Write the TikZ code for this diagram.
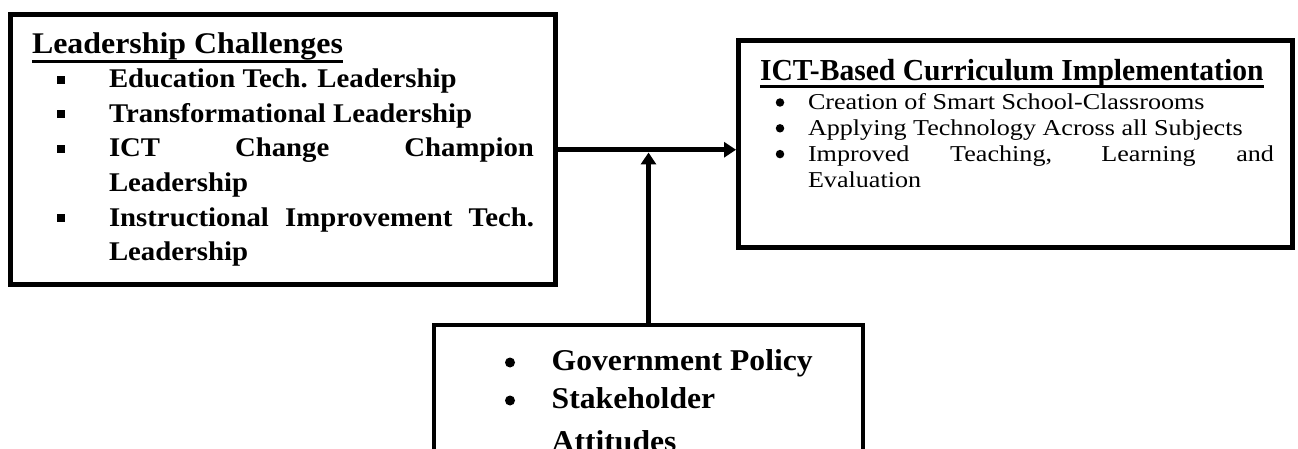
\documentclass[tikz,border=0pt]{standalone}
\usepackage{fontspec}
\setmainfont{Liberation Serif}
% per-block faces (Times metrics, slightly widened or narrowed)
\newfontfamily\lcHeadFont[FakeStretch=1.063]{Liberation Serif}
\newfontfamily\lcItemFont[FakeStretch=1.066]{Liberation Serif}
\newfontfamily\ictHeadFont[FakeStretch=0.97]{Liberation Serif}
\newfontfamily\ictItemFont[FakeStretch=1.15]{Liberation Serif}
\newfontfamily\govFont[FakeStretch=1.048]{Liberation Serif}
\usetikzlibrary{arrows.meta}

\begin{document}
\begin{tikzpicture}[x=1pt,y=-1pt,
  frame/.style={draw, line width=5pt, rectangle, inner sep=0pt},
  txt/.style={anchor=base west, inner sep=0pt, outer sep=0pt},
  lchead/.style={txt, font=\lcHeadFont\fontsize{30}{36}\selectfont\bfseries},
  lcitem/.style={txt, font=\lcItemFont\fontsize{27}{33}\selectfont\bfseries},
  icthead/.style={txt, font=\ictHeadFont\fontsize{30.5}{36}\selectfont\bfseries},
  ictitem/.style={txt, font=\ictItemFont\fontsize{22.7}{27}\selectfont},
  govitem/.style={txt, font=\govFont\fontsize{30.2}{36}\selectfont\bfseries},
  sqbullet/.style={fill, rectangle, minimum size=8pt, inner sep=0pt},
  dotbullet/.style={fill, circle, inner sep=0pt, minimum size=#1},
  link/.style={line width=5.5pt, -{Triangle[length=12pt,width=15pt]}},
  uline/.style={line width=#1}
]
\useasboundingbox (0,0) rectangle (1298,449);
\clip (0,0) rectangle (1298,449);

% ---------- frames ----------
\node[frame, minimum width=545pt, minimum height=269.5pt] (lc) at (283,149.75) {};
\node[frame, minimum width=554pt, minimum height=206.5pt] (ict) at (1015.5,143.75) {};
\node[line width=4.5pt, draw, rectangle, inner sep=0pt,
      minimum width=429pt, minimum height=175pt] (gov) at (648.5,412.5) {};

% ---------- Leadership Challenges ----------
\node[lchead] (lch) at (32,53.3) {Leadership Challenges};
\draw[uline=2.7pt] ([yshift=-8pt]lch.base west) -- ([yshift=-8pt]lch.base east);

\node[lcitem] (lc1) at (109,88) {Education Tech. Leadership};
\node[lcitem] (lc2) at (109,122.5) {Transformational Leadership};
\node[lcitem] (lc3) at (109,157) {\makebox[425pt][s]{ICT Change Champion}};
\node[lcitem] (lc3b) at (109,191.5) {Leadership};
\node[lcitem] (lc4) at (109,226) {\makebox[425pt][s]{Instructional Improvement Tech.}};
\node[lcitem] (lc4b) at (109,260.5) {Leadership};

\node[sqbullet] (sq1) at (61,80) {};
\node[sqbullet] (sq2) at (61,114.5) {};
\node[sqbullet] (sq3) at (61,149) {};
\node[sqbullet] (sq4) at (61,218) {};

% ---------- ICT-Based Curriculum Implementation ----------
\node[icthead] (icth) at (760,81) {ICT-Based Curriculum Implementation};
\draw[uline=3pt] ([yshift=-5.7pt]icth.base west) -- ([yshift=-5.7pt]icth.base east);

\node[ictitem] (ic1) at (808,110) {Creation of Smart School-Classrooms};
\node[ictitem] (ic2) at (808,135.8) {Applying Technology Across all Subjects};
\node[ictitem] (ic3) at (808,161.6) {\makebox[466pt][s]{Improved Teaching, Learning and}};
\node[ictitem] (ic3b) at (808,187.4) {Evaluation};

\node[dotbullet=8.5pt] (db1) at (780,102.5) {};
\node[dotbullet=8.5pt] (db2) at (780,128.3) {};
\node[dotbullet=8.5pt] (db3) at (780,154.1) {};

% ---------- Government Policy / Stakeholder Attitudes ----------
\node[govitem] (gv1) at (551.7,370) {Government Policy};
\node[govitem] (gv2) at (551.7,408) {Stakeholder};
\node[govitem] (gv2b) at (551.7,451) {Attitudes};

\node[dotbullet=10pt] (gb1) at (510,362.5) {};
\node[dotbullet=10pt] (gb2) at (510,400.5) {};

% ---------- connectors ----------
\draw[link] (lc.east) -- (lc.east -| ict.west);
\coordinate (join) at (gov.north |- lc.east);
\draw[link] (gov.north) -- ([yshift=-2.75pt]join);
\end{tikzpicture}
\end{document}
